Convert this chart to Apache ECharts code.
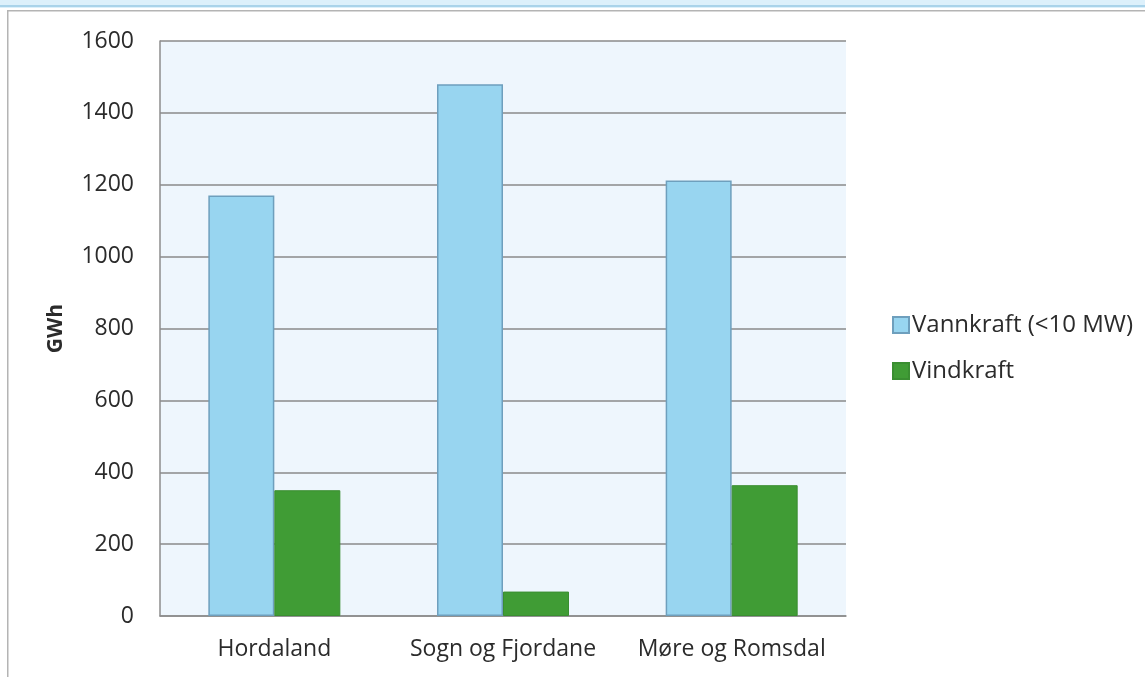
<!DOCTYPE html>
<html>
<head>
<meta charset="utf-8">
<script src="https://cdn.jsdelivr.net/npm/echarts@6/dist/echarts.min.js"></script>
<style>
  html, body { margin: 0; padding: 0; background: #ffffff; }
  #chart { width: 1145px; height: 677px; }
</style>
</head>
<body>
<div id="chart"></div>
<script>
// Småkraft og vindkraft per fylke (GWh)
const regions = ['Hordaland', 'Sogn og Fjordane', 'Møre og Romsdal'];
const hydroSmall = [1170, 1480, 1212];
const wind = [350, 68, 364];
const yTicks = { min: 0, max: 1600, interval: 200 };

const FONT = '"Open Sans", "DejaVu Sans", sans-serif';
const TEXT = '#2b2b2b';

const chart = echarts.init(document.getElementById('chart'), null, { renderer: 'canvas' });

chart.setOption({
  backgroundColor: '#ffffff',
  animation: false,
  textStyle: { fontFamily: FONT, color: TEXT },
  graphic: [
    // light blue strip along the top edge
    { type: 'rect', left: 0, top: 0, shape: { width: 1145, height: 8 },
      style: { fill: '#dcf0fb' }, silent: true },
    { type: 'rect', left: 0, top: 5, shape: { width: 1145, height: 2 },
      style: { fill: '#a9d3ea' }, silent: true },
    // outer frame: top and left borders
    { type: 'rect', left: 7, top: 10, shape: { width: 1138, height: 1.5 },
      style: { fill: '#b4b4b4' }, silent: true },
    { type: 'rect', left: 7, top: 10, shape: { width: 1.5, height: 667 },
      style: { fill: '#b4b4b4' }, silent: true }
  ],
  grid: {
    left: 160, right: 299, top: 41, bottom: 61,
    show: true, backgroundColor: '#eef6fd', borderWidth: 0,
    containLabel: false
  },
  legend: {
    orient: 'vertical',
    left: 887, top: 308,
    itemWidth: 16, itemHeight: 16, itemGap: 22,
    icon: 'rect',
    textStyle: { fontFamily: FONT, fontSize: 24, color: TEXT, padding: [0, 0, 0, -2] },
    data: ['Vannkraft (<10 MW)', 'Vindkraft']
  },
  xAxis: {
    type: 'category',
    data: regions,
    axisLine: { show: true, lineStyle: { color: '#8c8c8c', width: 1.5 } },
    axisTick: { show: false },
    axisLabel: { fontFamily: FONT, fontSize: 23, color: TEXT, margin: 22, interval: 0 },
    splitLine: { show: false }
  },
  yAxis: {
    type: 'value',
    min: yTicks.min, max: yTicks.max, interval: yTicks.interval,
    name: 'GWh',
    nameLocation: 'middle',
    nameGap: 93,
    nameRotate: 90,
    nameTextStyle: { fontFamily: FONT, fontSize: 21, fontWeight: 'bold', color: TEXT },
    axisLine: { show: true, lineStyle: { color: '#8c8c8c', width: 1.5 } },
    axisTick: { show: false },
    axisLabel: { fontFamily: FONT, fontSize: 23, color: TEXT, margin: 26,
      formatter: (v) => String(v) },
    splitLine: { show: true, lineStyle: { color: '#8a8a8a', width: 1.5 } }
  },
  series: [
    {
      name: 'Vannkraft (<10 MW)',
      type: 'bar',
      data: hydroSmall,
      barWidth: 66,
      barGap: '0%',
      itemStyle: { color: '#98d5f0', borderColor: '#6e9fbd', borderWidth: 1.5 }
    },
    {
      name: 'Vindkraft',
      type: 'bar',
      data: wind,
      barWidth: 66,
      barGap: '0%',
      itemStyle: { color: '#409c35', borderColor: '#3a8e31', borderWidth: 1 }
    }
  ]
});
</script>
</body>
</html>
